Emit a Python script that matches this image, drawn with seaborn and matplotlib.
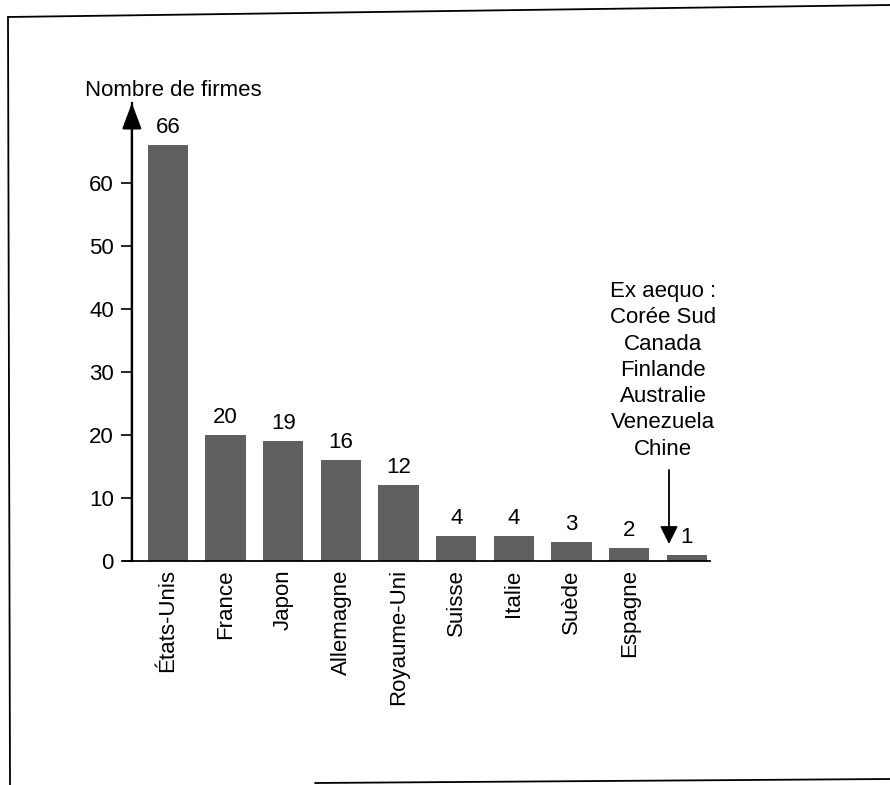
import numpy as np
import pandas as pd
import matplotlib
matplotlib.use("Agg")
import matplotlib.pyplot as plt
import seaborn as sns
from matplotlib.lines import Line2D

# ---- data ----
pays = ["États-Unis", "France", "Japon", "Allemagne", "Royaume-Uni",
        "Suisse", "Italie", "Suède", "Espagne", "Ex aequo"]
firmes = [66, 20, 19, 16, 12, 4, 4, 3, 2, 1]
tick_labels = ["États-Unis", "France", "Japon", "Allemagne", "Royaume-Uni",
               "Suisse", "Italie", "Suède", "Espagne", ""]
ex_aequo = ["Corée Sud", "Canada", "Finlande", "Australie", "Venezuela", "Chine"]
y_ticks = [0, 10, 20, 30, 40, 50, 60]

sns.set_theme(style="white")
plt.rcParams['font.family'] = ['Liberation Sans', 'DejaVu Sans']

W, H = 890, 785
fig = plt.figure(figsize=(W / 100, H / 100), dpi=100)
fig.patch.set_facecolor("white")


def fx(px):
    return px / W


def fy(py):
    return 1 - py / H


ax = fig.add_axes([fx(123), fy(561), fx(710) - fx(123), fy(103) - fy(561)])
ax.set_facecolor("white")

df = pd.DataFrame({"pays": pays, "firmes": firmes})
sns.barplot(data=df, x="pays", y="firmes", color="#606060", saturation=1,
            width=0.7, linewidth=0, ax=ax)

ax.set_xlim(-0.78, 9.4)
ax.set_ylim(0, 72.7)
ax.set_xlabel("")
ax.set_ylabel("")

for s in ["top", "right"]:
    ax.spines[s].set_visible(False)
ax.spines["left"].set_position(("data", -0.626))
ax.spines["left"].set_linewidth(1.6)
ax.spines["left"].set_color("black")
ax.spines["bottom"].set_linewidth(1.3)
ax.spines["bottom"].set_color("black")

ax.set_yticks(y_ticks)
ax.set_yticklabels([str(t) for t in y_ticks])
ax.tick_params(axis="y", direction="out", length=8, width=1.2, pad=5,
               labelsize=16, color="black", labelcolor="black", left=True)
ax.set_xticks(range(len(pays)))
ax.set_xticklabels(tick_labels, rotation=90, va="top", ha="center")
ax.tick_params(axis="x", length=0, pad=6, labelsize=16, labelcolor="black")

ax.bar_label(ax.containers[0], labels=[str(v) for v in firmes], padding=5,
             fontsize=16, color="black")

# y-axis arrow
ax.annotate("", xy=(-0.626, 72.7), xytext=(-0.626, 0), xycoords="data",
            arrowprops=dict(arrowstyle="-|>,head_length=0.8,head_width=0.3",
                            mutation_scale=20, lw=1.6, color="black",
                            shrinkA=0, shrinkB=0),
            annotation_clip=False)

fig.text(fx(85), fy(90), "Nombre de firmes", ha="left", va="center",
         fontsize=16, color="black")

fig.text(fx(663), fy(281), "Ex aequo :\n" + "\n".join(ex_aequo),
         ha="center", va="top", multialignment="center", linespacing=1.33,
         fontsize=16, color="black")

# pointer arrow to the last bar
ax.annotate("", xy=(fx(669), fy(544)), xytext=(fx(669), fy(470)),
            xycoords="figure fraction", textcoords="figure fraction",
            arrowprops=dict(arrowstyle="-|>,head_length=0.6,head_width=0.3",
                            mutation_scale=18, lw=1.3, color="black",
                            shrinkA=0, shrinkB=0),
            annotation_clip=False)

# scanned page frame
frame_kw = dict(transform=fig.transFigure, color="black", lw=1.3)
fig.add_artist(Line2D([fx(8), fx(890)], [fy(17), fy(5)], **frame_kw))
fig.add_artist(Line2D([fx(8), fx(10)], [fy(17), fy(785)], **frame_kw))
fig.add_artist(Line2D([fx(315), fx(890)], [fy(783), fy(779)], **frame_kw))

fig.savefig("out.png", dpi=100)
